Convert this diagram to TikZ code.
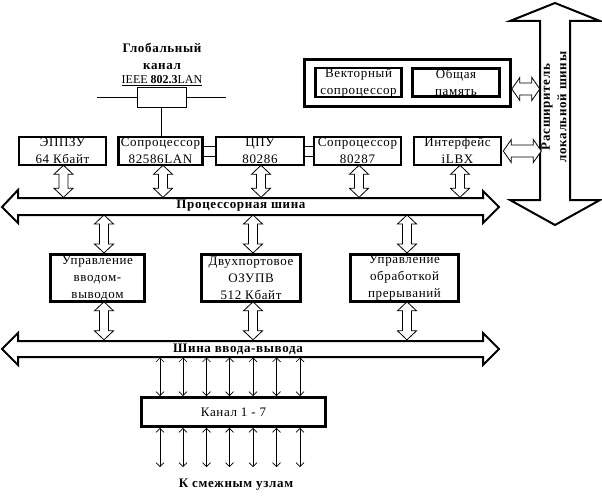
\documentclass[tikz,border=0pt]{standalone}
\usepackage{fontspec}
\setmainfont{Liberation Serif}
\newfontfamily\spfont[LetterSpace=5]{Liberation Serif}
\usetikzlibrary{arrows.meta}
\begin{document}
\begin{tikzpicture}[x=1pt,y=-1pt,
  box/.style={draw, line width=2.6pt, inner sep=0pt, align=center, font=\spfont\fontsize{13}{17}\selectfont},
  lbl/.style={font=\spfont\bfseries\fontsize{13}{15}\selectfont, inner sep=0pt},
  thinln/.style={line width=0.8pt},
  bus/.style={draw, line width=2pt, fill=white, line join=miter},
  tarr/.style={line width=0.7pt, {Straight Barb[length=4pt,width=8pt]}-{Straight Barb[length=4pt,width=8pt]}},
  pics/vdar/.style={code={\draw[line width=0.8pt, fill=white] (0,0) -- (9.5,9) -- (4.5,9) -- (4.5,#1-9) -- (9.5,#1-9) -- (0,#1) -- (-9.5,#1-9) -- (-4.5,#1-9) -- (-4.5,9) -- (-9.5,9) -- cycle;}},
  pics/hdar/.style={code={\draw[line width=0.8pt, fill=white] (0,0) -- (8,-11.5) -- (8,-6) -- (#1-8,-6) -- (#1-8,-11.5) -- (#1,0) -- (#1-8,11.5) -- (#1-8,6) -- (8,6) -- (8,11.5) -- cycle;}}
]
\useasboundingbox (0,0) rectangle (602,500);

% global channel
\node[lbl] (t1) at (162,48) {Глобальный};
\node[lbl] (t2) at (162,67) {канал};
\node[lbl, font=\fontsize{12}{14}\selectfont] (t3) at (162,81) {\underline{IEEE \textbf{802.3}LAN}};
\node[draw, thinln, minimum width=49pt, minimum height=20pt, inner sep=0pt] (gbox) at (161.5,97) {};
\coordinate (gl) at (97,97);
\coordinate (gr) at (226,97);
\draw[thinln] (gl) -- (gbox.west);
\draw[thinln] (gbox.east) -- (gr);

% top row
\node[box, minimum width=87pt, minimum height=28pt] (eppzu) at (62.5,151) {ЭППЗУ\\64 Кбайт};
\node[box, minimum width=84pt, minimum height=28pt] (lan) at (160.5,151) {Сопроцессор\\82586LAN};
\node[box, minimum width=88pt, minimum height=28pt] (cpu) at (260,151) {ЦПУ\\80286};
\node[box, minimum width=87pt, minimum height=28pt] (fpu) at (357.5,151) {Сопроцессор\\80287};
\node[box, minimum width=87pt, minimum height=28pt] (ilbx) at (457.5,151) {Интерфейс\\iLBX};
\draw[thinln] (gbox.south) -- (gbox.south |- lan.north);
\draw[thinln] ([yshift=5pt]lan.east) -- ([yshift=5pt]lan.east -| cpu.west);
\draw[thinln] ([yshift=-5pt]lan.east) -- ([yshift=-5pt]lan.east -| cpu.west);
\draw[thinln] ([yshift=5pt]cpu.east) -- ([yshift=5pt]cpu.east -| fpu.west);
\draw[thinln] ([yshift=-5pt]cpu.east) -- ([yshift=-5pt]cpu.east -| fpu.west);

% upper block
\node[box, minimum width=206pt, minimum height=47pt] (blk) at (407.5,83) {};
\node[box, minimum width=86pt, minimum height=28pt] (vec) at (358.5,82.5) {Векторный\\сопроцессор};
\node[box, minimum width=87pt, minimum height=28pt] (mem) at (456,82.5) {Общая\\память};

% vertical bus (local bus extender)
\draw[bus] (555,3) -- (600,21) -- (570,21) -- (570,200) -- (600,200) -- (555,225) -- (510,200) -- (540,200) -- (540,21) -- (510,21) -- cycle;
\node[lbl, rotate=90] (ext1) at (547,107) {Расширитель};
\node[lbl, rotate=90] (ext2) at (562,107) {локальной шины};
\pic at ([yshift=-6pt]blk.east) {hdar=28};
\pic at ([xshift=1pt]ilbx.east) {hdar=38};

% processor bus
\draw[bus] (2,207) -- (18,190) -- (18,198) -- (483,198) -- (483,191) -- (499,207) -- (483,223) -- (483,215) -- (18,215) -- (18,223) -- cycle;
\node[lbl] (pbus) at (241,206) {Процессорная шина};

% io bus
\draw[bus] (2,349) -- (18,333) -- (18,341) -- (483,341) -- (483,333) -- (499,349) -- (483,365) -- (483,357) -- (18,357) -- (18,365) -- cycle;
\node[lbl] (iobus) at (238,349) {Шина ввода-вывода};

% hollow arrows top row -> processor bus
\pic at ([xshift=1pt,yshift=1pt]eppzu.south) {vdar=32};
\pic at ([xshift=2.5pt,yshift=1pt]lan.south) {vdar=32};
\pic at ([xshift=1pt,yshift=1pt]cpu.south) {vdar=32};
\pic at ([xshift=1.5pt,yshift=1pt]fpu.south) {vdar=32};
\pic at ([xshift=2.5pt,yshift=1pt]ilbx.south) {vdar=32};

% middle boxes
\node[box, minimum width=94pt, minimum height=47pt] (io) at (97.5,278) {Управление\\вводом-\\выводом};
\node[box, minimum width=99pt, minimum height=47pt] (ram) at (251,278) {Двухпортовое\\ОЗУПВ\\512 Кбайт};
\node[box, minimum width=108pt, minimum height=47pt] (irq) at (404.5,278) {Управление\\обработкой\\прерываний};

\pic at ([xshift=6.5pt]io.north |- 0,215) {vdar=38};
\pic at ([xshift=2pt]ram.north |- 0,215) {vdar=38};
\pic at ([xshift=2.5pt]irq.north |- 0,215) {vdar=38};
\pic at ([xshift=6.5pt,yshift=1pt]io.south) {vdar=38};
\pic at ([xshift=2pt,yshift=1pt]ram.south) {vdar=38};
\pic at ([xshift=2.5pt,yshift=1pt]irq.south) {vdar=38};

% channels
\node[box, minimum width=184pt, minimum height=29pt] (kan) at (233.5,412) {Канал 1 - 7};
\coordinate (iob) at (0,357.5);
\coordinate (bot) at (0,467);
\foreach \x in {160,183,206.5,229.5,253,276.5,300}{
  \draw[tarr] (\x,0 |- iob) -- (\x,0 |- kan.north);
  \draw[tarr] (\x,0 |- kan.south) -- (\x,0 |- bot);
}
\node[lbl] (adj) at (236,485) {К смежным узлам};
\end{tikzpicture}
\end{document}
